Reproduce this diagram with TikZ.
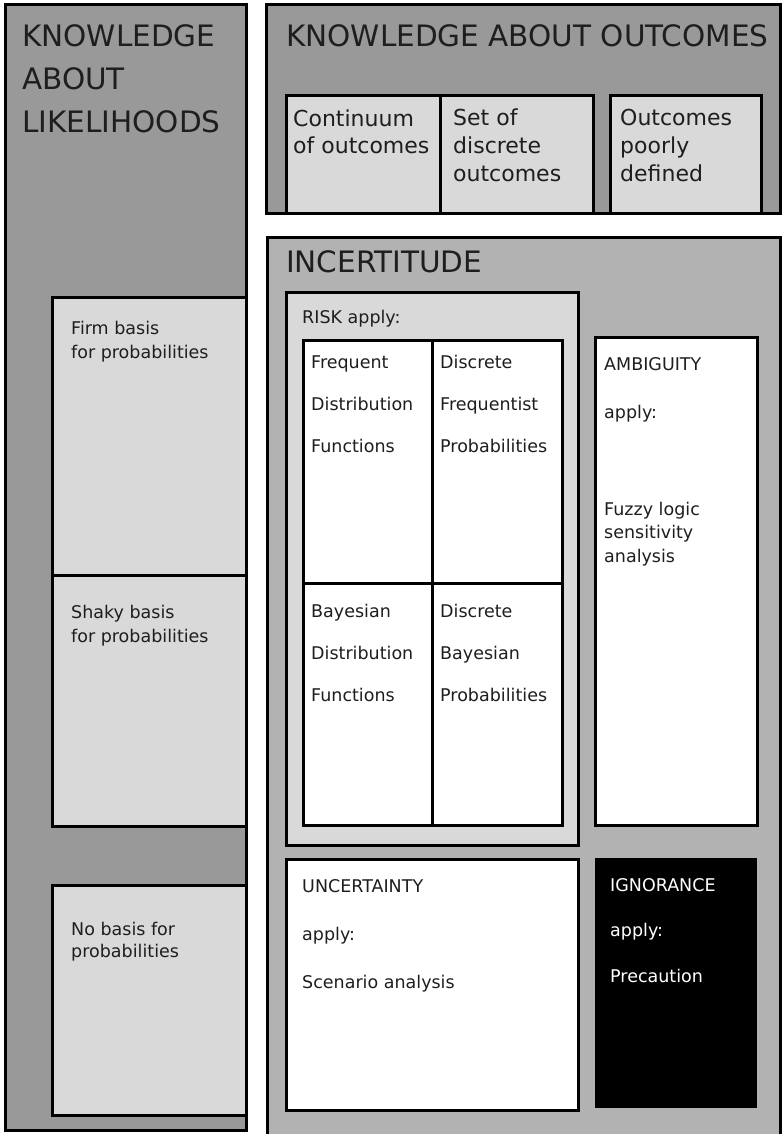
\documentclass[tikz,border=0pt]{standalone}
\usepackage{fontspec}
\setmainfont{DejaVu Sans}
\usepackage{xcolor}
\usetikzlibrary{positioning}
\definecolor{panelDark}{RGB}{153,153,153}
\definecolor{panelMid}{RGB}{178,178,178}
\definecolor{panelLight}{RGB}{217,217,217}
\definecolor{inkGrey}{RGB}{30,30,30}

% text nodes sit on the baseline of their last line
\tikzset{
  frame/.style={draw=black, line width=3pt},
  bigtxt/.style={anchor=base west, inner sep=0pt, align=left, text=inkGrey,
    font=\fontsize{29.5}{43}\selectfont},
  midtxt/.style={anchor=base west, inner sep=0pt, align=left, text=inkGrey,
    font=\fontsize{22}{28}\selectfont},
  smalltxt/.style={anchor=base west, inner sep=0pt, align=left, text=inkGrey,
    font=\fontsize{17.5}{24}\selectfont}
}

\begin{document}
\begin{tikzpicture}[x=1pt, y=-1pt]
        \useasboundingbox (0,0) rectangle (782,1134);
        \clip (0,0) rectangle (782,1134);

        % likelihoods column
        \draw[frame, fill=panelDark] (5,5) rectangle (246,1130);
        \draw[frame, fill=panelLight] (52,297) rectangle (246,575);
        \draw[frame, fill=panelLight] (52,575) rectangle (246,826);
        \draw[frame, fill=panelLight] (52,885) rectangle (246,1115);
        \node[bigtxt] (likeTitle) at (22,133) {KNOWLEDGE\\ABOUT\\LIKELIHOODS};
        \node[smalltxt] (firmBasis) at (71,358) {Firm basis\\for probabilities};
        \node[smalltxt] (shakyBasis) at (71,642) {Shaky basis\\for probabilities};
        \node[smalltxt, font=\fontsize{17.5}{22}\selectfont] (noBasis) at (71,957) {No basis for\\probabilities};

        % outcomes row
        \draw[frame, fill=panelDark] (266,5) rectangle (780,213);
        \draw[frame, fill=panelLight] (286,96) rectangle (440,213);
        \draw[frame, fill=panelLight] (440,96) rectangle (593,213);
        \draw[frame, fill=panelLight] (610,96) rectangle (761,213);
        \node[bigtxt] (outTitle) at (286,47) {KNOWLEDGE ABOUT OUTCOMES};
        \node[midtxt] (continuum) at (293,154) {Continuum\\of outcomes};
        \node[midtxt] (discreteSet) at (453,182) {Set of\\discrete\\outcomes};
        \node[midtxt] (poorlyDef) at (620,182) {Outcomes\\poorly\\defined};

        % incertitude
        \draw[frame, fill=panelMid] (267,237) rectangle (780,1150);
        \node[bigtxt] (incTitle) at (286,272) {INCERTITUDE};

        \draw[frame, fill=panelLight] (286,292) rectangle (578,845);
        \node[smalltxt] (riskHead) at (302,323) {RISK apply:};
        \draw[frame, fill=white] (303,340) rectangle (562,825);
        \draw[frame] (432,340) -- (432,825);
        \draw[frame] (303,583) -- (562,583);
        \node[smalltxt, font=\fontsize{17.5}{42}\selectfont] (freqDist) at (311,452) {Frequent\\Distribution\\Functions};
        \node[smalltxt, font=\fontsize{17.5}{42}\selectfont] (freqProb) at (440,452) {Discrete\\Frequentist\\Probabilities};
        \node[smalltxt, font=\fontsize{17.5}{42}\selectfont] (bayesDist) at (311,701) {Bayesian\\Distribution\\Functions};
        \node[smalltxt, font=\fontsize{17.5}{42}\selectfont] (bayesProb) at (440,701) {Discrete\\Bayesian\\Probabilities};

        \draw[frame, fill=white] (595,337) rectangle (757,825);
        \node[smalltxt] (ambHead) at (604,370) {AMBIGUITY};
        \node[smalltxt] (ambApply) at (604,418) {apply:};
        \node[smalltxt, font=\fontsize{17.5}{23.5}\selectfont] (ambTools) at (604,562) {Fuzzy logic\\sensitivity\\analysis};

        \draw[frame, fill=white] (286,859) rectangle (578,1110);
        \node[smalltxt, font=\fontsize{17.5}{48}\selectfont] (uncText) at (302,988) {UNCERTAINTY\\apply:\\Scenario analysis};

        \draw[fill=black] (595,858) rectangle (756,1107);
        \node[smalltxt, text=white, font=\fontsize{17.5}{45.5}\selectfont] (ignText) at (610,982) {IGNORANCE\\apply:\\Precaution};
    \end{tikzpicture}
\end{document}
